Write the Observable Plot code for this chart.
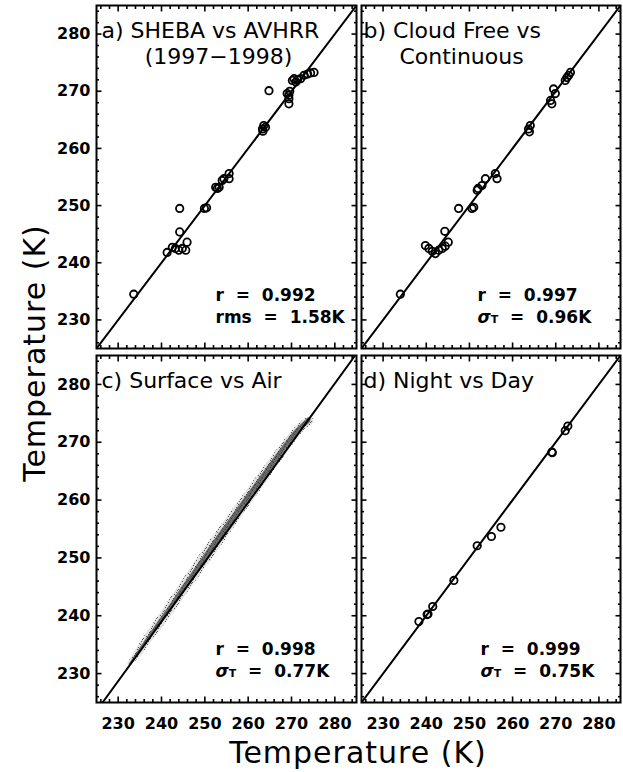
<!DOCTYPE html>
<html>
<head>
<meta charset="utf-8">
<script src="https://cdn.jsdelivr.net/npm/d3@7"></script>
<script src="https://cdn.jsdelivr.net/npm/@observablehq/plot@0.6"></script>
<style>
  body { margin: 0; background: #fff; }
  #chart { position: relative; width: 623px; height: 772px; background: #fff; }
  #chart svg { position: absolute; overflow: visible; background: none; }
</style>
</head>
<body>
<div id="chart"></div>
<script>
// ---------------- data ----------------
const majorTicks = [230, 240, 250, 260, 270, 280];
const minorTicks = [226, 228, 232, 234, 236, 238, 242, 244, 246, 248, 252, 254, 256, 258, 262, 264, 266, 268, 272, 274, 276, 278, 282, 284];

// a) SHEBA vs AVHRR (1997-1998)
const aX = [233.6, 241.3, 242.5, 243.2, 244.0, 244.8, 245.6, 245.9, 244.2, 244.2,
            249.9, 250.4, 252.5, 252.9, 253.3, 254.0, 254.4, 255.6, 255.6,
            263.3, 263.6, 264.0, 263.4, 264.8,
            269.4, 269.4, 269.4, 269.0, 269.6,
            270.2, 270.6, 271.0, 271.4, 272.1, 272.9, 273.7, 274.4, 275.2];
const aY = [234.5, 241.8, 242.7, 242.5, 242.2, 242.5, 242.2, 243.6, 245.4, 249.5,
            249.5, 249.6, 253.2, 253.0, 253.2, 254.4, 254.7, 255.6, 254.7,
            263.4, 264.0, 263.7, 263.0, 270.1,
            269.3, 268.7, 267.8, 269.6, 270.0,
            271.9, 272.2, 271.6, 272.0, 272.2, 272.8, 273.0, 273.2, 273.3];

// b) Cloud Free vs Continuous
const bX = [234.0, 239.8, 240.6, 241.4, 242.1, 242.9, 243.7, 244.4, 245.1, 244.3,
            247.5, 250.6, 251.0, 251.8, 252.0, 252.9, 253.7, 256.0, 256.4,
            263.7, 264.1, 263.9,
            268.8, 269.1, 269.9, 269.5,
            272.2, 272.6, 273.0, 273.4];
const bY = [234.5, 243.0, 242.5, 242.0, 241.6, 242.2, 242.5, 242.9, 243.6, 245.5,
            249.5, 249.5, 249.7, 252.7, 253.0, 253.5, 254.7, 255.6, 254.7,
            263.4, 264.0, 262.9,
            268.4, 267.8, 269.6, 270.4,
            271.9, 272.4, 272.8, 273.3];

// c) Surface vs Air : dense cloud of points, outer and core extent (x range at given y)
const cBandY    = [231.5, 233.0, 236.0, 239.0, 242.0, 245.0, 248.0, 251.0, 254.0, 257.0, 260.0, 263.0, 266.0, 269.0, 272.0, 273.5, 274.2];
const cOuterLo  = [232.2, 233.2, 235.7, 238.5, 241.2, 243.9, 246.6, 249.3, 252.2, 255.1, 258.1, 261.0, 264.0, 267.0, 270.2, 272.2, 273.5];
const cOuterHi  = [233.1, 235.2, 238.2, 241.3, 244.2, 247.0, 249.9, 252.8, 255.6, 258.4, 261.3, 264.1, 266.9, 269.8, 272.9, 275.2, 274.8];
const cCoreLo   = [232.5, 233.8, 236.5, 239.3, 242.1, 244.8, 247.6, 250.3, 253.1, 256.0, 258.9, 261.8, 264.7, 267.7, 270.8, 272.9, 273.8];
const cCoreHi   = [232.8, 234.6, 237.4, 240.4, 243.3, 246.1, 249.0, 251.8, 254.6, 257.4, 260.3, 263.2, 266.1, 269.0, 272.2, 274.4, 274.5];

// d) Night vs Day
const dX = [238.3, 240.2, 240.4, 241.5, 246.4, 251.8, 255.1, 257.3, 269.1, 269.2, 272.2, 272.8];
const dY = [239.0, 240.2, 240.3, 241.6, 246.1, 252.1, 253.7, 255.3, 268.3, 268.2, 272.0, 272.8];

// fitted lines (end points)
const lineAB = {x: [225, 285], y: [225, 285]};
const lineC  = {x: [226.4, 284.7], y: [225, 285]};
const lineD  = {x: [225, 285], y: [225, 285]};

const titles = {
  a: ["a) SHEBA vs AVHRR", "(1997\u22121998)"],
  b: ["b) Cloud Free vs", "Continuous"],
  c: ["c) Surface vs Air"],
  d: ["d) Night vs Day"]
};
const stats = {
  a: ["r\u00a0\u00a0=\u00a0\u00a00.992", "rms\u00a0\u00a0=\u00a0\u00a01.58K"],
  b: ["r\u00a0\u00a0=\u00a0\u00a00.997", "\u03c3T\u00a0\u00a0=\u00a0\u00a00.96K"],
  c: ["r\u00a0\u00a0=\u00a0\u00a00.998", "\u03c3T\u00a0\u00a0=\u00a0\u00a00.77K"],
  d: ["r\u00a0\u00a0=\u00a0\u00a00.999", "\u03c3T\u00a0\u00a0=\u00a0\u00a00.75K"]
};
const axisTitle = "Temperature (K)";

// ---------------- drawing ----------------
const FONT = "DejaVu Sans, sans-serif";
const DOMAIN = [225, 285];

// stipple pattern for the dense point cloud
const defs = d3.select("#chart").append("svg")
  .attr("width", 0).attr("height", 0).style("left", "0px").style("top", "0px")
  .append("defs");
const sp = defs.append("pattern").attr("id", "speck").attr("patternUnits", "userSpaceOnUse")
  .attr("width", 7).attr("height", 7);
[[0,0],[3,1],[5,3],[1,4],[4,5],[6,6],[2,2]].forEach(([x, y]) =>
  sp.append("rect").attr("x", x).attr("y", y).attr("width", 1).attr("height", 1).attr("fill", "#444"));

function tickMarks() {
  const m = [];
  const common = {tickFormat: () => "", strokeWidth: 1.6, tickPadding: 0};
  for (const anchor of ["top", "bottom"]) {
    m.push(Plot.axisX(majorTicks, {...common, anchor, tickSize: -5.5}));
    m.push(Plot.axisX(minorTicks, {...common, anchor, tickSize: -3}));
  }
  for (const anchor of ["left", "right"]) {
    m.push(Plot.axisY(majorTicks, {...common, anchor, tickSize: -5.5}));
    m.push(Plot.axisY(minorTicks, {...common, anchor, tickSize: -3}));
  }
  return m;
}

function makePanel(cfg) {
  const marks = [];
  if (cfg.band) marks.push(...cfg.band);
  marks.push(Plot.line(cfg.line.x.map((x, i) => [x, cfg.line.y[i]]), {stroke: "black", strokeWidth: 2, clip: true}));
  if (cfg.xs) {
    marks.push(Plot.dot(cfg.xs.map((x, i) => [x, cfg.ys[i]]), {
      r: 3.7, stroke: "black", strokeWidth: 1.8, fill: "none"
    }));
  }
  marks.push(...tickMarks());
  marks.push(Plot.frame({stroke: "black", strokeWidth: 2}));
  marks.push(Plot.text([cfg.title[0]], {
    frameAnchor: "top-left", textAnchor: "start", lineAnchor: "bottom",
    dx: cfg.titleDx, dy: 32, fontSize: 22, fill: "black"
  }));
  if (cfg.title.length > 1) {
    marks.push(Plot.text([cfg.title[1]], {
      frameAnchor: "top-left", textAnchor: "middle", lineAnchor: "bottom",
      dx: cfg.title2Dx, dy: 58, fontSize: 22, fill: "black"
    }));
  }
  marks.push(Plot.text([cfg.stats[0]], {
    frameAnchor: "bottom-left", textAnchor: "start", lineAnchor: "bottom",
    dx: cfg.statsDx, dy: -48, fontSize: 17, fontWeight: "bold", fill: "black"
  }));
  marks.push(Plot.text([cfg.stats[1]], {
    frameAnchor: "bottom-left", textAnchor: "start", lineAnchor: "bottom",
    dx: cfg.statsDx, dy: -26, fontSize: 17, fontWeight: "bold", fill: "black"
  }));
  if (cfg.leftLabels) {
    marks.push(Plot.axisY(majorTicks, {anchor: "left", tickSize: 0, tickPadding: 6,
      fontSize: 16, fontWeight: "bold", fill: "black"}));
  }
  if (cfg.bottomLabels) {
    marks.push(Plot.axisX(majorTicks, {anchor: "bottom", tickSize: 0, tickPadding: 15,
      fontSize: 16, fontWeight: "bold", fill: "black"}));
  }
  const svg = Plot.plot({
    width: cfg.width, height: cfg.height,
    marginLeft: cfg.ml, marginRight: cfg.mr, marginTop: cfg.mt, marginBottom: cfg.mb,
    x: {domain: DOMAIN, label: null},
    y: {domain: DOMAIN, label: null},
    style: {fontFamily: FONT, background: "none", overflow: "visible", color: "black"},
    marks
  });
  svg.style.left = cfg.left + "px";
  svg.style.top = cfg.top + "px";
  // subscript T in sigma labels
  d3.select(svg).selectAll("text").each(function () {
    const t = this.textContent;
    if (t.startsWith("\u03c3T")) {
      const sel = d3.select(this);
      sel.text(null);
      sel.append("tspan").attr("font-style", "italic").text("\u03c3");
      sel.append("tspan").attr("font-size", 11).text("T");
      sel.append("tspan").text(t.slice(2));
    }
  });
  document.getElementById("chart").appendChild(svg);
}

const bandMarks = [
  Plot.areaX(cBandY.map((y, i) => ({y, x1: cOuterLo[i], x2: cOuterHi[i]})),
    {y: "y", x1: "x1", x2: "x2", fill: "url(#speck)", curve: "catmull-rom"}),
  Plot.areaX(cBandY.map((y, i) => ({y, x1: cOuterLo[i], x2: cOuterHi[i]})),
    {y: "y", x1: "x1", x2: "x2", fill: "#888", fillOpacity: 0.25, curve: "catmull-rom"}),
  Plot.areaX(cBandY.map((y, i) => ({y, x1: cCoreLo[i], x2: cCoreHi[i]})),
    {y: "y", x1: "x1", x2: "x2", fill: "#333", fillOpacity: 0.7, curve: "catmull-rom"})
];

makePanel({left: 0, top: 0, width: 358, height: 350, ml: 96, mr: 2, mt: 5, mb: 2,
  xs: aX, ys: aY, line: lineAB, title: titles.a, titleDx: 5, title2Dx: 122,
  stats: stats.a, statsDx: 119, leftLabels: true});
makePanel({left: 358, top: 0, width: 265, height: 350, ml: 3, mr: 3, mt: 5, mb: 2,
  xs: bX, ys: bY, line: lineAB, title: titles.b, titleDx: 2, title2Dx: 100,
  stats: stats.b, statsDx: 116});
makePanel({left: 0, top: 350, width: 358, height: 422, ml: 96, mr: 2, mt: 5, mb: 70,
  band: bandMarks, line: lineC, title: titles.c, titleDx: 5,
  stats: stats.c, statsDx: 119, leftLabels: true, bottomLabels: true});
makePanel({left: 358, top: 350, width: 265, height: 422, ml: 3, mr: 3, mt: 5, mb: 70,
  xs: dX, ys: dY, line: lineD, title: titles.d, titleDx: 2,
  stats: stats.d, statsDx: 119, bottomLabels: true});

// axis titles
const over = d3.select("#chart").append("svg")
  .attr("width", 623).attr("height", 772)
  .style("left", "0px").style("top", "0px")
  .attr("font-family", FONT);
over.append("text")
  .attr("x", 358).attr("y", 763).attr("text-anchor", "middle")
  .attr("font-size", 30).attr("letter-spacing", 1).attr("fill", "black")
  .text(axisTitle);
over.append("text")
  .attr("transform", "translate(45,353) rotate(-90)").attr("text-anchor", "middle")
  .attr("font-size", 30).attr("letter-spacing", 1).attr("fill", "black")
  .text(axisTitle);
</script>
</body>
</html>
